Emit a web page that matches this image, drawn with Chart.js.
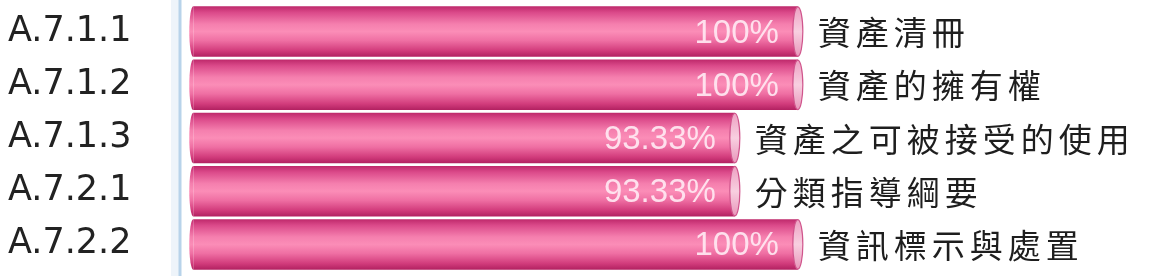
<!DOCTYPE html>
<html>
<head>
<meta charset="utf-8">
<script src="https://cdn.jsdelivr.net/npm/chart.js@4"></script>
<style>
  html, body { margin: 0; padding: 0; background: #fff; }
  #wrap { width: 1153px; height: 276px; position: relative; }
</style>
</head>
<body>
<div id="wrap"><canvas id="chart"></canvas></div>
<script>
// chart data
const codes = ['A.7.1.1', 'A.7.1.2', 'A.7.1.3', 'A.7.2.1', 'A.7.2.2'];
const titles = ['資產清冊', '資產的擁有權', '資產之可被接受的使用', '分類指導綱要', '資訊標示與處置'];
const scores = [100, 100, 93.33, 93.33, 100];

function barGradient(ctx, top, h) {
    const g = ctx.createLinearGradient(0, top, 0, top + h);
    g.addColorStop(0, '#bf2a6c');
    g.addColorStop(0.12, '#db4a8a');
    g.addColorStop(0.35, '#f57fae');
    g.addColorStop(0.5, '#fb8db7');
    g.addColorStop(0.68, '#ef6fa3');
    g.addColorStop(0.88, '#d23c7c');
    g.addColorStop(1, '#b32262');
    return g;
}

// axis line on the left, drawn over the full height
const axisLine = {
    id: 'axisLine',
    beforeDatasetsDraw(chart) {
        const { ctx, chartArea } = chart;
        ctx.save();
        ctx.fillStyle = '#eef4fa';
        ctx.fillRect(chartArea.left - 10, 0, 8, chart.height);
        ctx.strokeStyle = '#b8d3ea';
        ctx.lineWidth = 3;
        ctx.beginPath();
        ctx.moveTo(chartArea.left - 1, 0);
        ctx.lineTo(chartArea.left - 1, chart.height);
        ctx.stroke();
        ctx.restore();
    }
};

// end caps plus value and title text
const cylinderDecor = {
    id: 'cylinderDecor',
    afterDatasetsDraw(chart) {
        const { ctx } = chart;
        const meta = chart.getDatasetMeta(0);
        ctx.save();
        meta.data.forEach((bar, i) => {
            const h = bar.height;
            const top = bar.y - h / 2;
            // left rounded end
            ctx.fillStyle = barGradient(ctx, top, h);
            ctx.beginPath();
            ctx.ellipse(bar.base, bar.y, 4, h / 2, 0, Math.PI / 2, Math.PI * 1.5);
            ctx.fill();
            // right cap
            const cg = ctx.createLinearGradient(0, top, 0, top + h);
            cg.addColorStop(0, '#eda0c2');
            cg.addColorStop(0.5, '#f8cfe0');
            cg.addColorStop(1, '#e896ba');
            ctx.fillStyle = cg;
            ctx.strokeStyle = '#d0558c';
            ctx.lineWidth = 1.2;
            ctx.beginPath();
            ctx.ellipse(bar.x, bar.y, 5, h / 2 - 0.5, 0, 0, Math.PI * 2);
            ctx.fill();
            ctx.stroke();

            // value
            ctx.font = '33px "Liberation Sans", Arial, sans-serif';
            ctx.fillStyle = 'rgba(255, 232, 242, 0.92)';
            ctx.textAlign = 'right';
            ctx.textBaseline = 'middle';
            ctx.fillText(scores[i] + '%', bar.x - 19, bar.y + 2);

            // title
            ctx.font = '33px "Noto Sans CJK TC", "Noto Sans CJK SC", sans-serif';
            ctx.letterSpacing = '5px';
            ctx.fillStyle = '#1e1e1e';
            ctx.textAlign = 'left';
            ctx.fillText(titles[i], bar.x + 20, bar.y + 1);
            ctx.letterSpacing = '0px';
        });
        ctx.restore();
    }
};

new Chart(document.getElementById('chart'), {
    type: 'bar',
    data: {
        labels: codes,
        datasets: [{
            data: scores,
            base: 36,
            backgroundColor: function (context) {
                const chart = context.chart;
                if (!chart.chartArea) return '#f07aab';
                const yScale = chart.scales.y;
                const y = yScale.getPixelForValue(context.dataIndex);
                const h = 50;
                return barGradient(chart.ctx, y - h / 2, h);
            },
            borderWidth: 0,
            barPercentage: 0.95,
            categoryPercentage: 1
        }]
    },
    options: {
        indexAxis: 'y',
        responsive: true,
        maintainAspectRatio: false,
        animation: false,
        layout: { padding: { top: 5, bottom: 5, left: 8, right: 0 } },
        scales: {
            x: {
                display: false,
                min: 34.7,
                max: 137.6
            },
            y: {
                afterFit: function (scale) {
                    scale.width = 173;
                    scale.paddingTop = 0;
                    scale.paddingBottom = 0;
                },
                grid: { display: false },
                border: { display: false },
                ticks: {
                    crossAlign: 'far',
                    padding: 8,
                    color: '#222',
                    font: { family: '"DejaVu Sans", sans-serif', size: 35 }
                }
            }
        },
        plugins: {
            legend: { display: false },
            tooltip: { enabled: false }
        }
    },
    plugins: [axisLine, cylinderDecor]
});
</script>
</body>
</html>
